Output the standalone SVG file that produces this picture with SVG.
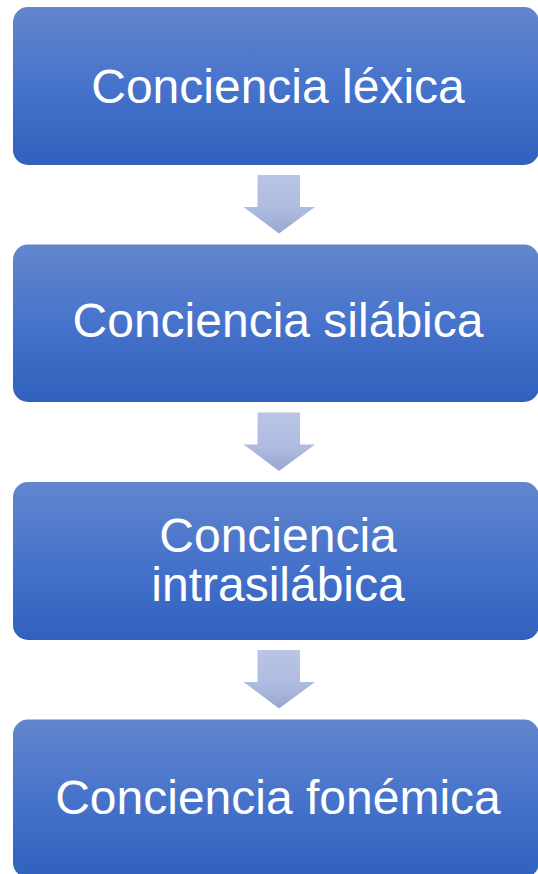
<svg xmlns="http://www.w3.org/2000/svg" width="538" height="874" viewBox="0 0 538 874">
<defs>
<linearGradient id="boxg" x1="0" y1="0" x2="0" y2="1">
<stop offset="0" stop-color="#6386cd"/>
<stop offset="0.5" stop-color="#4673cb"/>
<stop offset="1" stop-color="#3061bd"/>
</linearGradient>
<linearGradient id="arrg" x1="0" y1="0" x2="0" y2="1">
<stop offset="0" stop-color="#b9c5e5"/>
<stop offset="0.6" stop-color="#aebbe0"/>
<stop offset="1" stop-color="#97a6d1"/>
</linearGradient>
<style>
.box{fill:url(#boxg);}
.lbl{font-family:"Liberation Sans",Arial,sans-serif;font-size:48px;fill:#ffffff;text-anchor:middle;}
.arr{fill:url(#arrg);}
</style>
</defs>
<g id="connectors">
<path class="arr" d="M257.5,175 H300 V207 H315 L279,233.5 L243.5,207 H257.5 Z"/>
<path class="arr" transform="translate(0,237.5)" d="M257.5,175 H300 V207 H315 L279,233.5 L243.5,207 H257.5 Z"/>
<path class="arr" transform="translate(0,475)" d="M257.5,175 H300 V207 H315 L279,233.5 L243.5,207 H257.5 Z"/>
</g>
<g id="node1">
<rect class="box" x="13" y="7" width="526" height="158" rx="15"/>
<text class="lbl" x="278" y="103">Conciencia léxica</text>
</g>
<g id="node2">
<rect class="box" x="13" y="244.5" width="526" height="157.5" rx="15"/>
<text class="lbl" x="278" y="337">Conciencia silábica</text>
</g>
<g id="node3">
<rect class="box" x="13" y="482" width="526" height="158" rx="15"/>
<text class="lbl" x="278" y="552">Conciencia</text>
<text class="lbl" x="278" y="601">intrasilábica</text>
</g>
<g id="node4">
<rect class="box" x="13" y="719.5" width="526" height="158" rx="15"/>
<text class="lbl" x="278" y="814">Conciencia fonémica</text>
</g>
</svg>
